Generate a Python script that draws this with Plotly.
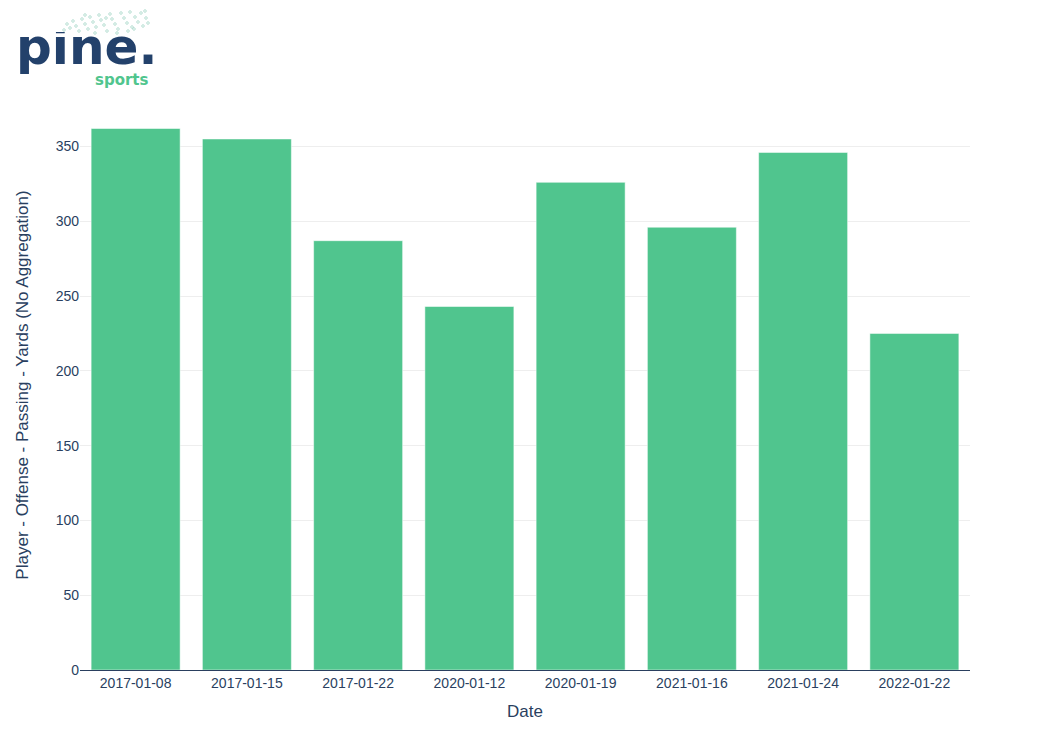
import plotly.graph_objects as go

dates = ["2017-01-08", "2017-01-15", "2017-01-22", "2020-01-12",
         "2020-01-19", "2021-01-16", "2021-01-24", "2022-01-22"]
yards = [362, 355, 287, 243, 326, 296, 346, 225]

fig = go.Figure()
fig.add_trace(go.Bar(
    x=dates, y=yards,
    marker=dict(color="#50C58E", line=dict(color="rgba(255,255,255,0.5)", width=1)),
))

# page body adds 8px offset; compensate in margins
fig.update_layout(
    width=1050, height=750,
    template="plotly_white",
    margin=dict(l=72, r=88, t=92, b=88, autoexpand=False),
    showlegend=False,
    font=dict(family="Arial, Liberation Sans, sans-serif", color="#2a3f5f", size=12),
    xaxis=dict(type="category", title=dict(text="Date", font=dict(size=17)),
               showline=True, linecolor="#2a3f5f", linewidth=1, ticks="",
               tickfont=dict(size=14)),
    yaxis=dict(title=dict(text="Player - Offense - Passing - Yards (No Aggregation)",
                          font=dict(size=17), standoff=22),
               automargin=True,
               gridcolor="#eeeeee", zeroline=False, ticks="",
               tickfont=dict(size=14), dtick=50),
)

# logo (decoration) in page pixel coordinates -> paper coords
PX_L, PX_R, PX_T, PX_B = 80, 970, 100, 670
def px(xp):
    return (xp - PX_L) / (PX_R - PX_L)
def py(yp):
    return (PX_B - yp) / (PX_B - PX_T)

fig.add_annotation(text="<b>pine.</b>", xref="paper", yref="paper",
                   x=px(14), y=py(54), xanchor="left", yanchor="middle",
                   showarrow=False, height=44, valign="bottom",
                   font=dict(family="DejaVu Sans, sans-serif", size=50, color="#23416B"))
fig.add_annotation(text="<b>sports</b>", xref="paper", yref="paper",
                   x=px(93), y=py(80), xanchor="left", yanchor="middle",
                   showarrow=False,
                   font=dict(family="DejaVu Sans, sans-serif", size=15, color="#50C58E"))

dots = [(64, 30), (67, 24), (70, 28), (73, 21), (76, 26), (79, 31), (82, 19), (85, 24),
        (88, 29), (90, 17), (93, 22), (96, 27), (99, 15), (101, 20), (104, 25), (107, 31),
        (110, 14), (112, 19), (115, 24), (118, 29), (121, 13), (124, 18), (127, 23),
        (130, 12), (132, 27), (135, 17), (138, 22), (141, 13), (143, 26), (146, 18),
        (148, 23), (145, 11), (117, 33), (128, 31), (95, 33), (85, 15), (106, 18), (134, 29)]
for (dx, dy) in dots:
    fig.add_shape(type="circle", xref="paper", yref="paper",
                  x0=px(dx - 1.3), x1=px(dx + 1.3), y0=py(dy + 1.3), y1=py(dy - 1.3),
                  line=dict(color="rgba(100,185,160,0.55)", width=0.8),
                  fillcolor="rgba(255,255,255,0)")

fig.write_html("out.html")
